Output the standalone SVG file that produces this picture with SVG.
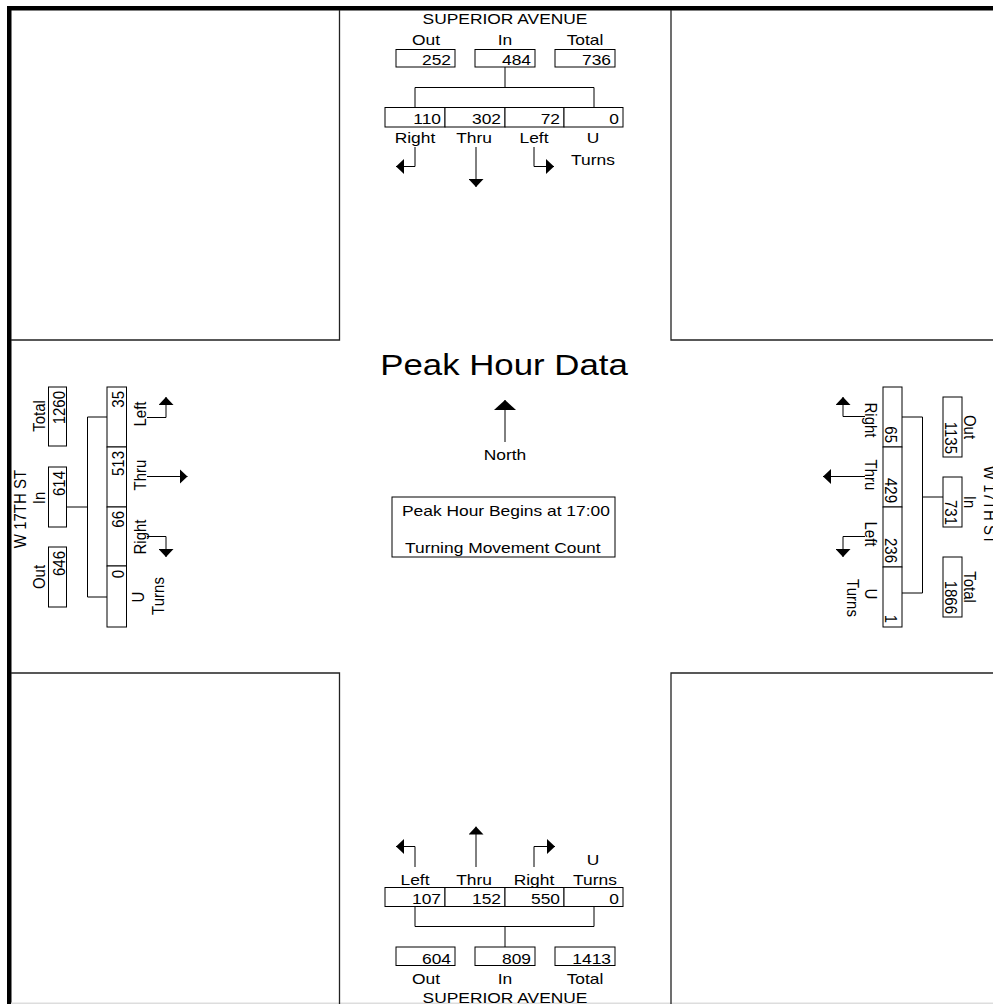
<svg xmlns="http://www.w3.org/2000/svg" width="993" height="1004" viewBox="0 0 993 1004">
<style>
.t{font-family:"Liberation Sans",Arial,sans-serif;font-size:15px;fill:#000}
.m{text-anchor:middle}
.e{text-anchor:end}
.big{font-size:29px}
.ln{stroke:#000;stroke-width:1;fill:none}
.ar{stroke:#000;stroke-width:1;fill:none;marker-end:url(#ah)}
.bx{fill:#fff;stroke:#000;stroke-width:1}
.blk{stroke:#222;stroke-width:1.3;fill:none}
</style>
<defs>
<marker id="ah" viewBox="0 0 8 15" refX="8" refY="7.5" markerWidth="8" markerHeight="15" markerUnits="userSpaceOnUse" orient="auto"><path d="M0,0 L8,7.5 L0,15 z" fill="#000"/></marker>
<marker id="ahn" viewBox="0 0 10 22" refX="10" refY="11" markerWidth="10" markerHeight="22" markerUnits="userSpaceOnUse" orient="auto"><path d="M0,0 L10,11 L0,22 z" fill="#000"/></marker>
</defs>
<rect width="993" height="1004" fill="#fff"/>
<g id="frame">
<rect x="7" y="6" width="986" height="4.5" fill="#000"/>
<rect x="7" y="6" width="4.5" height="998" fill="#000"/>
<rect x="11" y="1002.5" width="982" height="1.5" fill="#ddd"/>
<path class="blk" d="M339.5,10 V340 H11 M671,10 V340 H993 M11,673 H339.5 V1004 M993,673 H671 V1004"/>
</g>
<g id="connectors">
<path class="ln" d="M505,67 V87.5 M415,107.5 V87.5 H594 V107.5"/>
<path class="ln" d="M505,947 V926.5 M415,906.5 V926.5 H594 V906.5"/>
<path class="ln" d="M67,507 H87.5 M107,417 H87.5 V597 H107"/>
<path class="ln" d="M943,497 H922.5 M902,417 H922.5 V593 H902"/>
<path class="ar" d="M415,147 V166.5 H396"/>
<path class="ar" d="M476,147 V187"/>
<path class="ar" d="M534,147 V166.5 H554"/>
<path class="ar" d="M415,867 V846.5 H396"/>
<path class="ar" d="M476,867 V826.5"/>
<path class="ar" d="M534,867 V846.5 H555"/>
<path class="ar" d="M147,417.5 H166 V397"/>
<path class="ar" d="M147,476.5 H187.5"/>
<path class="ar" d="M147,536.5 H166 V557"/>
<path class="ar" d="M865,416.5 H843 V397"/>
<path class="ar" d="M865,476.5 H823"/>
<path class="ar" d="M865,536.5 H843 V557"/>
<path class="ln" d="M505,442 V400" marker-end="url(#ahn)"/>
</g>
<g id="north">
<text class="t big m" transform="translate(504,375) scale(1.2,1)">Peak Hour Data</text>
<text class="t m" transform="translate(505,460) scale(1.16,1)">North</text>
</g>
<g id="info">
<rect class="bx" x="392" y="497" width="223" height="60"/>
<text class="t" transform="translate(402,515.5) scale(1.16,1)">Peak Hour Begins at 17:00</text>
<text class="t" transform="translate(405,553) scale(1.16,1)">Turning Movement Count</text>
</g>
<g id="north-approach">
<text class="t m" transform="translate(505,24) scale(1.16,1)">SUPERIOR AVENUE</text>
<text class="t m" transform="translate(426,45) scale(1.16,1)">Out</text>
<text class="t m" transform="translate(505,45) scale(1.16,1)">In</text>
<text class="t m" transform="translate(585,45) scale(1.16,1)">Total</text>
<rect class="bx" x="396" y="49.5" width="59" height="17.5"/>
<rect class="bx" x="475" y="49.5" width="60" height="17.5"/>
<rect class="bx" x="555" y="49.5" width="60" height="17.5"/>
<text class="t e" transform="translate(451,65) scale(1.16,1)">252</text>
<text class="t e" transform="translate(531,65) scale(1.16,1)">484</text>
<text class="t e" transform="translate(611,65) scale(1.16,1)">736</text>
<rect class="bx" x="385" y="107.5" width="60" height="19.5"/>
<rect class="bx" x="445" y="107.5" width="60" height="19.5"/>
<rect class="bx" x="505" y="107.5" width="59" height="19.5"/>
<rect class="bx" x="564" y="107.5" width="59" height="19.5"/>
<text class="t e" transform="translate(441,124) scale(1.16,1)">110</text>
<text class="t e" transform="translate(501,124) scale(1.16,1)">302</text>
<text class="t e" transform="translate(560,124) scale(1.16,1)">72</text>
<text class="t e" transform="translate(619,124) scale(1.16,1)">0</text>
<text class="t m" transform="translate(415,143) scale(1.16,1)">Right</text>
<text class="t m" transform="translate(474,143) scale(1.16,1)">Thru</text>
<text class="t m" transform="translate(534,143) scale(1.16,1)">Left</text>
<text class="t m" transform="translate(593,143) scale(1.16,1)">U</text>
<text class="t m" transform="translate(593,165) scale(1.16,1)">Turns</text>
</g>
<g id="south-approach">
<text class="t m" transform="translate(415,885) scale(1.16,1)">Left</text>
<text class="t m" transform="translate(474,885) scale(1.16,1)">Thru</text>
<text class="t m" transform="translate(534,885) scale(1.16,1)">Right</text>
<text class="t m" transform="translate(593,865) scale(1.16,1)">U</text>
<text class="t m" transform="translate(595,885) scale(1.16,1)">Turns</text>
<rect class="bx" x="385" y="887.5" width="60" height="19"/>
<rect class="bx" x="445" y="887.5" width="60" height="19"/>
<rect class="bx" x="505" y="887.5" width="59" height="19"/>
<rect class="bx" x="564" y="887.5" width="59" height="19"/>
<text class="t e" transform="translate(441,904) scale(1.16,1)">107</text>
<text class="t e" transform="translate(501,904) scale(1.16,1)">152</text>
<text class="t e" transform="translate(560,904) scale(1.16,1)">550</text>
<text class="t e" transform="translate(619,904) scale(1.16,1)">0</text>
<rect class="bx" x="396" y="947" width="59" height="18.5"/>
<rect class="bx" x="475" y="947" width="60" height="18.5"/>
<rect class="bx" x="555" y="947" width="60" height="18.5"/>
<text class="t e" transform="translate(451,964) scale(1.16,1)">604</text>
<text class="t e" transform="translate(531,964) scale(1.16,1)">809</text>
<text class="t e" transform="translate(611,964) scale(1.16,1)">1413</text>
<text class="t m" transform="translate(426,984) scale(1.16,1)">Out</text>
<text class="t m" transform="translate(505,984) scale(1.16,1)">In</text>
<text class="t m" transform="translate(585,984) scale(1.16,1)">Total</text>
<text class="t m" transform="translate(505,1002.5) scale(1.16,1)">SUPERIOR AVENUE</text>
</g>
<g id="west-approach">
<text class="t m" transform="translate(26,509) scale(1.16,1) rotate(-90)">W 17TH ST</text>
<text class="t m" transform="translate(45,416) scale(1.16,1) rotate(-90)">Total</text>
<text class="t m" transform="translate(45,498) scale(1.16,1) rotate(-90)">In</text>
<text class="t m" transform="translate(45,577) scale(1.16,1) rotate(-90)">Out</text>
<rect class="bx" x="48.5" y="387" width="18" height="59"/>
<rect class="bx" x="48.5" y="467" width="18" height="60"/>
<rect class="bx" x="48.5" y="547" width="18" height="60"/>
<text class="t e" transform="translate(65,391) scale(1.16,1) rotate(-90)">1260</text>
<text class="t e" transform="translate(65,471) scale(1.16,1) rotate(-90)">614</text>
<text class="t e" transform="translate(65,551) scale(1.16,1) rotate(-90)">646</text>
<rect class="bx" x="107" y="387" width="19.5" height="60"/>
<rect class="bx" x="107" y="447" width="19.5" height="60"/>
<rect class="bx" x="107" y="507" width="19.5" height="59"/>
<rect class="bx" x="107" y="566" width="19.5" height="61"/>
<text class="t e" transform="translate(124,391) scale(1.16,1) rotate(-90)">35</text>
<text class="t e" transform="translate(124,451) scale(1.16,1) rotate(-90)">513</text>
<text class="t e" transform="translate(124,511) scale(1.16,1) rotate(-90)">66</text>
<text class="t e" transform="translate(124,570) scale(1.16,1) rotate(-90)">0</text>
<text class="t m" transform="translate(146,414) scale(1.16,1) rotate(-90)">Left</text>
<text class="t m" transform="translate(146,475) scale(1.16,1) rotate(-90)">Thru</text>
<text class="t m" transform="translate(146,537) scale(1.16,1) rotate(-90)">Right</text>
<text class="t m" transform="translate(144,597) scale(1.16,1) rotate(-90)">U</text>
<text class="t m" transform="translate(164,596) scale(1.16,1) rotate(-90)">Turns</text>
</g>
<g id="east-approach">
<rect class="bx" x="883" y="387" width="19" height="60"/>
<rect class="bx" x="883" y="447" width="19" height="60"/>
<rect class="bx" x="883" y="507" width="19" height="60"/>
<rect class="bx" x="883" y="567" width="19" height="60"/>
<text class="t e" transform="translate(885,443) scale(1.16,1) rotate(90)">65</text>
<text class="t e" transform="translate(885,503) scale(1.16,1) rotate(90)">429</text>
<text class="t e" transform="translate(885,563) scale(1.16,1) rotate(90)">236</text>
<text class="t e" transform="translate(885,623) scale(1.16,1) rotate(90)">1</text>
<text class="t m" transform="translate(865,420) scale(1.16,1) rotate(90)">Right</text>
<text class="t m" transform="translate(865,475) scale(1.16,1) rotate(90)">Thru</text>
<text class="t m" transform="translate(865,534) scale(1.16,1) rotate(90)">Left</text>
<text class="t m" transform="translate(865,594) scale(1.16,1) rotate(90)">U</text>
<text class="t m" transform="translate(847,598) scale(1.16,1) rotate(90)">Turns</text>
<rect class="bx" x="943" y="397" width="19" height="60"/>
<rect class="bx" x="943" y="477" width="19" height="50"/>
<rect class="bx" x="943" y="557" width="19" height="60"/>
<text class="t e" transform="translate(944.5,454) scale(1.16,1) rotate(90)">1135</text>
<text class="t e" transform="translate(944.5,525) scale(1.16,1) rotate(90)">731</text>
<text class="t e" transform="translate(944.5,614) scale(1.16,1) rotate(90)">1866</text>
<text class="t m" transform="translate(964,427) scale(1.16,1) rotate(90)">Out</text>
<text class="t m" transform="translate(964,502) scale(1.16,1) rotate(90)">In</text>
<text class="t m" transform="translate(964,587) scale(1.16,1) rotate(90)">Total</text>
<text class="t m" transform="translate(984,505) scale(1.16,1) rotate(90)">W 17TH ST</text>
</g>
</svg>
